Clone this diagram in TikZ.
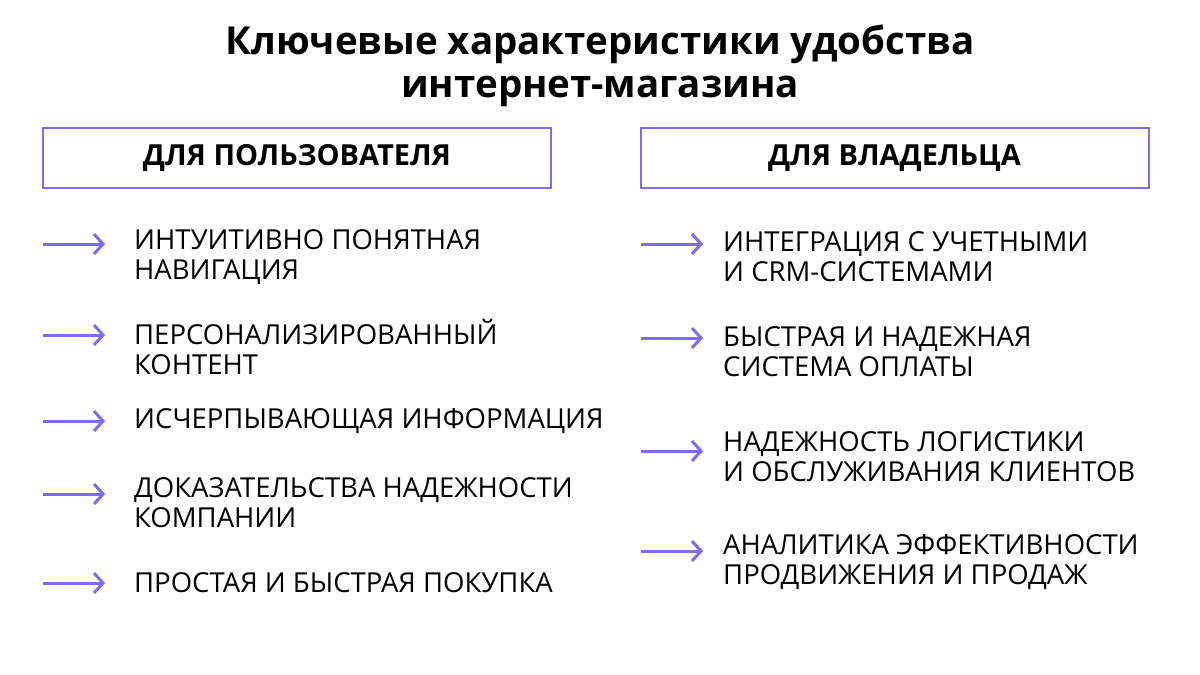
\documentclass[tikz,border=0pt]{standalone}
\usepackage{fontspec}
\setmainfont{Open Sans}
\usetikzlibrary{arrows.meta}
\definecolor{pur}{HTML}{7B6CF0}
\begin{document}
\begin{tikzpicture}[x=1pt,y=-1pt,
  hbox/.style={draw=pur,line width=2pt,minimum width=508pt,minimum height=60pt,font=\bfseries\fontsize{29}{32}\selectfont,inner sep=0},
  item/.style={anchor=west,align=left,font=\fontsize{27.5}{30}\selectfont,inner sep=0},
  arr/.style={pur,line width=3pt,-{Straight Barb[length=9pt,width=20pt]}}]
\useasboundingbox (0,0) rectangle (1200,675);
\node[font=\bfseries\fontsize{38.5}{43}\selectfont,align=center] (t) at (600,66) {Ключевые характеристики удобства\\интернет-магазина};
\node[hbox] (hl) at (297,158) {ДЛЯ ПОЛЬЗОВАТЕЛЯ};
\node[hbox] (hr) at (894.5,158) {ДЛЯ ВЛАДЕЛЬЦА};
\foreach \n/\y/\t in {a/257/{ИНТУИТИВНО ПОНЯТНАЯ\\НАВИГАЦИЯ},b/347/{ПЕРСОНАЛИЗИРОВАННЫЙ\\КОНТЕНТ},c/421/{ИСЧЕРПЫВАЮЩАЯ ИНФОРМАЦИЯ},d/503/{ДОКАЗАТЕЛЬСТВА НАДЕЖНОСТИ\\КОМПАНИИ},e/583/{ПРОСТАЯ И БЫСТРАЯ ПОКУПКА}}{
  \node[item] (l\n) at (134,\y) {\t};}
\foreach \n/\y in {a/244,b/335,c/421,d/494,e/583}{
  \coordinate (ls\n) at (43,\y); \coordinate (le\n) at (105,\y);
  \draw[arr] (ls\n) -- (le\n);}
\foreach \n/\y/\t in {a/257/{ИНТЕГРАЦИЯ С УЧЕТНЫМИ\\И CRM-СИСТЕМАМИ},b/352/{БЫСТРАЯ И НАДЕЖНАЯ\\СИСТЕМА ОПЛАТЫ},c/457/{НАДЕЖНОСТЬ ЛОГИСТИКИ\\И ОБСЛУЖИВАНИЯ КЛИЕНТОВ},d/562/{АНАЛИТИКА ЭФФЕКТИВНОСТИ\\ПРОДВИЖЕНИЯ И ПРОДАЖ}}{
  \node[item] (r\n) at (723,\y) {\t};}
\foreach \n/\y in {a/244,b/338,c/451,d/551}{
  \coordinate (rs\n) at (641,\y); \coordinate (re\n) at (703,\y);
  \draw[arr] (rs\n) -- (re\n);}
\end{tikzpicture}
\end{document}
